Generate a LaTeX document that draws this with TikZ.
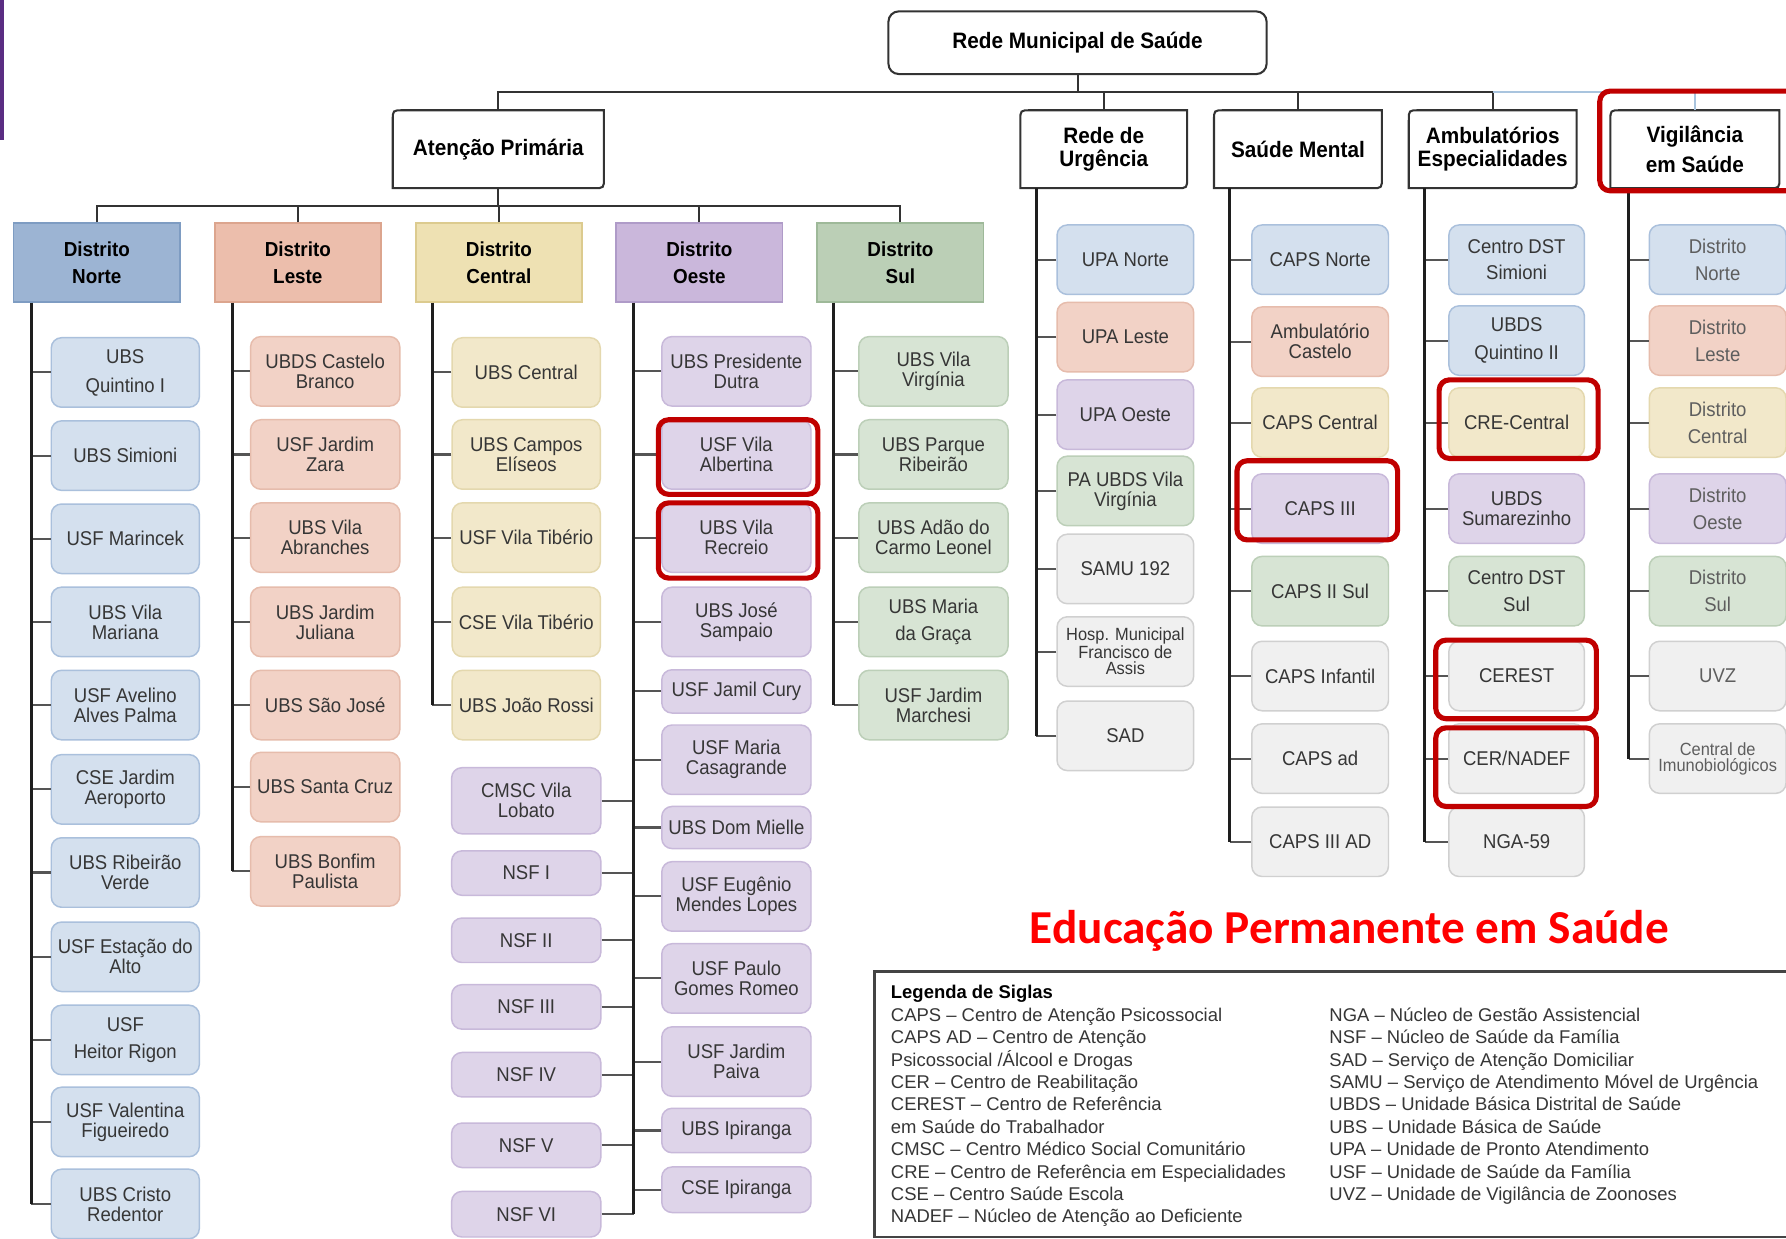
\documentclass[tikz,border=0pt]{standalone}
\usepackage{fontspec}
\setmainfont{Liberation Sans}
\newfontfamily\boxfont{Liberation Sans}[FakeStretch=0.93]
\newfontfamily\calfont{Carlito}

% Cores
\definecolor{linec}{HTML}{333333}
\definecolor{trunkc}{HTML}{1E1E1E}
\definecolor{tickc}{HTML}{555555}
\definecolor{busb}{HTML}{A9C4DE}
\definecolor{txt}{HTML}{363636}
\definecolor{txtl}{HTML}{5E5E5E}
\definecolor{hired}{HTML}{C00000}
\definecolor{titred}{HTML}{FF0000}
\definecolor{legc}{HTML}{444444}
\definecolor{barpur}{HTML}{5A2D82}
\definecolor{blueH}{HTML}{9CB4D3}\definecolor{blueE}{HTML}{7E9CC2}
\definecolor{blueF}{HTML}{D4E0EE}\definecolor{blueL}{HTML}{AAC0DC}
\definecolor{salmonH}{HTML}{ECBEAC}\definecolor{salmonE}{HTML}{DCA58E}
\definecolor{salmonF}{HTML}{F2D2C6}\definecolor{salmonL}{HTML}{E6BCAC}
\definecolor{yellowH}{HTML}{EEE1B3}\definecolor{yellowE}{HTML}{DCCB8F}
\definecolor{yellowF}{HTML}{F2E8CA}\definecolor{yellowL}{HTML}{E4D8AE}
\definecolor{purpleH}{HTML}{CAB7DB}\definecolor{purpleE}{HTML}{AF9BC8}
\definecolor{purpleF}{HTML}{DED4E9}\definecolor{purpleL}{HTML}{C8B9DA}
\definecolor{greenH}{HTML}{BBCFB6}\definecolor{greenE}{HTML}{9EB999}
\definecolor{greenF}{HTML}{D7E4D4}\definecolor{greenL}{HTML}{BCCFB8}
\definecolor{grayF}{HTML}{F0F0F0}\definecolor{grayL}{HTML}{D0D0D0}

% Fontes
\newcommand\itemtxt{\boxfont\fontsize{17.5}{17.5}\selectfont}
\newcommand\tinytxt{\boxfont\fontsize{15.5}{14.2}\selectfont}
\newcommand\lvltxt{\boxfont\bfseries\fontsize{19.6}{19.6}\selectfont}
\newcommand\disttxt{\boxfont\bfseries\fontsize{17.8}{17.8}\selectfont}
\newcommand\legfont{\fontsize{16.2}{19.6}\selectfont}

\begin{document}
\begin{tikzpicture}[x=1pt, y=-1pt,
    topbox/.style={draw=linec, line width=1.8pt, rounded corners=9pt, fill=white,
      minimum width=332pt, minimum height=55pt, inner sep=0pt, font=\lvltxt},
    lvl/.style={minimum height=68pt, inner sep=0pt, align=center, font=\lvltxt},
    lvlline/.style={draw=linec, line width=1.8pt},
    dist/.style={draw=#1E, fill=#1H, line width=1.4pt, minimum width=146pt,
      minimum height=69pt, inner sep=0pt, align=center, font=\disttxt},
    item/.style={draw=#1L, fill=#1F, rounded corners=9pt, line width=1.3pt,
      minimum height=61pt, inner sep=0pt, align=center, text=txt, font=\itemtxt},
    bus/.style={draw=linec, line width=1.8pt},
    busblue/.style={draw=busb, line width=1.8pt},
    trunk/.style={draw=trunkc, line width=2.6pt},
    tick/.style={draw=tickc, line width=1.8pt},
    hilite/.style={draw=hired, line width=4.5pt, rounded corners=9pt},
    legbox/.style={draw=legc, line width=2.3pt},
    legtxt/.style={anchor=base west, inner sep=0pt, text=txt, font=\legfont}
  ]
  \useasboundingbox (0,0) rectangle (1568,1087);
  \fill[white] (0,0) rectangle (1568,1087);
  \fill[barpur] (0,0) rectangle (3.5,123);

  % Topo e primeiro nivel
  \node[topbox] (rm) at (946,37.5) {Rede Municipal de Saúde};
  \node[lvl, minimum width=185pt] (ap) at (437.5,131) {Atenção Primária};
  \node[lvl, minimum width=146pt] (ru) at (969,131) {Rede de\\Urgência};
  \node[lvl, minimum width=147pt] (sm) at (1139.5,131) {Saúde Mental};
  \node[lvl, minimum width=147pt] (ae) at (1310.5,131) {Ambulatórios\\Especialidades};
  \node[lvl, minimum width=148pt] (vs) at (1488,131) {Vigilância\\[6pt]em Saúde};
  \foreach \n in {ap,ru,sm,ae,vs}{
    \draw[lvlline] (\n.south west) -- ([yshift=-9pt]\n.north west)
      .. controls (\n.north west) .. ([xshift=9pt]\n.north west)
      -- (\n.north east) -- ([yshift=9pt]\n.south east)
      .. controls (\n.south east) .. ([xshift=-9pt]\n.south east) -- cycle;
  }
  \draw[bus] (rm.south) -- ++(0,15) coordinate (rmb);
  \foreach \n in {ap,ru,sm,ae}
    \draw[bus] (\n.north) |- (rmb);
  \draw[busblue] (vs.north) |- (rmb -| ae.north);

  % Distritos da Atencao Primaria
  \node[dist=blue] (dn) at (85,230.5) {Distrito\\[6pt]Norte};
  \node[dist=salmon] (dl) at (261.5,230.5) {Distrito\\[6pt]Leste};
  \node[dist=yellow] (dc) at (438,230.5) {Distrito\\[6pt]Central};
  \node[dist=purple] (do) at (614,230.5) {Distrito\\[6pt]Oeste};
  \node[dist=green] (ds) at (790.5,230.5) {Distrito\\[6pt]Sul};
  \draw[bus] (ap.south) -- ++(0,16) coordinate (apb);
  \foreach \d in {dn,dl,dc,do,ds}
    \draw[bus] (\d.north) |- (apb);

  % ---- Distrito Norte ----
  \coordinate (tn) at ([xshift=16pt]dn.south west);
  \foreach \y/\t [count=\i] in {
      327/{UBS\\[8pt]Quintino I}, 400/{UBS Simioni}, 473/{USF Marincek},
      546/{UBS Vila\\Mariana}, 619/{USF Avelino\\Alves Palma},
      693/{CSE Jardim\\Aeroporto}, 766/{UBS Ribeirão\\Verde},
      840/{USF Estação do\\Alto}, 913/{USF\\[6.5pt]Heitor Rigon},
      985/{USF Valentina\\Figueiredo}, 1057/{UBS Cristo\\Redentor}}{
    \node[item=blue, minimum width=130pt] (n\i) at (110,\y) {\t};
    \draw[tick] (n\i.west) -- (n\i.west -| tn);
  }
  \draw[trunk] (tn) -- (tn |- n11.west);

  % ---- Distrito Leste ----
  \coordinate (tl) at ([xshift=16pt]dl.south west);
  \foreach \y/\t [count=\i] in {
      326/{UBDS Castelo\\Branco}, 399/{USF Jardim\\Zara}, 472/{UBS Vila\\Abranches},
      546/{UBS Jardim\\Juliana}, 619/{UBS São José}, 691/{UBS Santa Cruz},
      765/{UBS Bonfim\\Paulista}}{
    \node[item=salmon, minimum width=131pt] (l\i) at (285.5,\y) {\t};
    \draw[tick] (l\i.west) -- (l\i.west -| tl);
  }
  \draw[trunk] (tl) -- (tl |- l7.west);

  % ---- Distrito Central ----
  \coordinate (tc) at ([xshift=15pt]dc.south west);
  \foreach \y/\t [count=\i] in {
      327/{UBS Central}, 399/{UBS Campos\\Elíseos}, 472/{USF Vila Tibério},
      546/{CSE Vila Tibério}, 619/{UBS João Rossi}}{
    \node[item=yellow, minimum width=130pt] (c\i) at (462,\y) {\t};
    \draw[tick] (c\i.west) -- (c\i.west -| tc);
  }
  \draw[trunk] (tc) -- (tc |- c5.west);

  % ---- Distrito Oeste (dos dois lados) ----
  \coordinate (to) at ([xshift=16pt]do.south west);
  \foreach \y/\h/\t [count=\i] in {
      326/61/{UBS Presidente\\Dutra}, 399/61/{USF Vila\\Albertina},
      472/61/{UBS Vila\\Recreio}, 546/61/{UBS José\\Sampaio},
      607/38/{USF Jamil Cury}, 667/61/{USF Maria\\Casagrande},
      726.5/37/{UBS Dom Mielle}, 787/61/{USF Eugênio\\Mendes Lopes},
      859/61/{USF Paulo\\Gomes Romeo}, 932/61/{USF Jardim\\Paiva},
      992.5/39/{UBS Ipiranga}, 1044.5/40/{CSE Ipiranga}}{
    \node[item=purple, minimum width=131pt, minimum height=\h pt] (o\i) at (646.5,\y) {\t};
    \draw[tick] (o\i.west) -- (o\i.west -| to);
  }
  \foreach \y/\h/\t [count=\i] in {
      703/58/{CMSC Vila\\Lobato}, 766.5/39/{NSF I}, 825.5/39/{NSF II},
      884/39/{NSF III}, 943.5/39/{NSF IV}, 1005.5/39/{NSF V}, 1066/40/{NSF VI}}{
    \node[item=purple, minimum width=131pt, minimum height=\h pt] (ow\i) at (462,\y) {\t};
    \draw[tick] (ow\i.east) -- (ow\i.east -| to);
  }
  \draw[trunk] (to) -- (to |- ow7.east);

  % ---- Distrito Sul ----
  \coordinate (ts) at ([xshift=15pt]ds.south west);
  \foreach \y/\t [count=\i] in {
      326/{UBS Vila\\Virgínia}, 399/{UBS Parque\\Ribeirão},
      472/{UBS Adão do\\Carmo Leonel}, 546/{UBS Maria\\[6.5pt]da Graça},
      619/{USF Jardim\\Marchesi}}{
    \node[item=green, minimum width=131pt] (s\i) at (819.5,\y) {\t};
    \draw[tick] (s\i.west) -- (s\i.west -| ts);
  }
  \draw[trunk] (ts) -- (ts |- s5.west);

  % ---- Rede de Urgencia ----
  \coordinate (tu) at ([xshift=14pt]ru.south west);
  \foreach \c/\y/\f/\t [count=\i] in {
      blue/228/\itemtxt/{UPA Norte}, salmon/296/\itemtxt/{UPA Leste},
      purple/364/\itemtxt/{UPA Oeste}, green/431/\itemtxt/{PA UBDS Vila\\Virgínia},
      gray/499.5/\itemtxt/{SAMU 192},
      gray/572/\tinytxt/{Hosp. Municipal\\Francisco de\\Assis},
      gray/646/\itemtxt/{SAD}}{
    \node[item=\c, minimum width=120pt, font=\f] (u\i) at (988,\y) {\t};
    \draw[tick] (u\i.west) -- (u\i.west -| tu);
  }
  \draw[trunk] (tu) -- (tu |- u7.west);

  % ---- Saude Mental ----
  \coordinate (tm) at ([xshift=14pt]sm.south west);
  \foreach \c/\y/\t [count=\i] in {
      blue/228/{CAPS Norte}, salmon/300/{Ambulatório\\Castelo},
      yellow/371/{CAPS Central}, purple/446.5/{CAPS III}, green/519/{CAPS II Sul},
      gray/593.5/{CAPS Infantil}, gray/666/{CAPS ad}, gray/739/{CAPS III AD}}{
    \node[item=\c, minimum width=120pt] (m\i) at (1159,\y) {\t};
    \draw[tick] (m\i.west) -- (m\i.west -| tm);
  }
  \draw[trunk] (tm) -- (tm |- m8.west);

  % ---- Ambulatorios Especialidades ----
  \coordinate (ta) at ([xshift=14pt]ae.south west);
  \foreach \c/\y/\t [count=\i] in {
      blue/228/{Centro DST\\[6pt]Simioni}, blue/299/{UBDS\\[6.5pt]Quintino II},
      yellow/371/{CRE-Central}, purple/446.5/{UBDS\\Sumarezinho},
      green/519/{Centro DST\\[6pt]Sul}, gray/593.5/{CEREST},
      gray/666/{CER/NADEF}, gray/739/{NGA-59}}{
    \node[item=\c, minimum width=119pt] (a\i) at (1331.5,\y) {\t};
    \draw[tick] (a\i.west) -- (a\i.west -| ta);
  }
  \draw[trunk] (ta) -- (ta |- a8.west);

  % ---- Vigilancia em Saude ----
  \coordinate (tv) at ([xshift=16pt]vs.south west);
  \foreach \c/\y/\f/\t [count=\i] in {
      blue/228/\itemtxt/{Distrito\\[6pt]Norte}, salmon/299/\itemtxt/{Distrito\\[6pt]Leste},
      yellow/371/\itemtxt/{Distrito\\[6pt]Central}, purple/446.5/\itemtxt/{Distrito\\[6pt]Oeste},
      green/519/\itemtxt/{Distrito\\[6pt]Sul}, gray/593.5/\itemtxt/{UVZ},
      gray/666/\tinytxt/{Central de\\Imunobiológicos}}{
    \node[item=\c, minimum width=120pt, font=\f, text=txtl] (v\i) at (1508,\y) {\t};
    \draw[tick] (v\i.west) -- (v\i.west -| tv);
  }
  \draw[trunk] (tv) -- (tv |- v7.west);

  % Destaques em vermelho
  \draw[hilite] (1404.5,80) rectangle (1578,167.5);
  \draw[hilite] (578,368.5) rectangle (718,434);
  \draw[hilite] (578,441.5) rectangle (718,507.5);
  \draw[hilite] (1086,404.5) rectangle (1227,474);
  \draw[hilite] (1263.5,333.5) rectangle (1403,402.5);
  \draw[hilite] (1260.5,562) rectangle (1401.5,631);
  \draw[hilite] (1260.5,639) rectangle (1401.5,708);

  % Titulo e legenda
  \node[anchor=base west, inner sep=0pt, text=titred,
    font=\calfont\bfseries\fontsize{41.5}{41.5}\selectfont] (ep) at (904,828)
    {Educação Permanente em Saúde};
  \draw[legbox] (768,853) rectangle (1582,1086);
  \node[legtxt, text=black, font=\legfont\bfseries] (lg) at (782,877) {Legenda de Siglas};
  \foreach \t [count=\i] in {
      CAPS – Centro de Atenção Psicossocial,
      CAPS AD – Centro de Atenção,
      Psicossocial /Álcool e Drogas,
      CER – Centro de Reabilitação,
      CEREST – Centro de Referência,
      em Saúde do Trabalhador,
      CMSC – Centro Médico Social Comunitário,
      CRE – Centro de Referência em Especialidades,
      CSE – Centro Saúde Escola,
      NADEF – Núcleo de Atenção ao Deficiente}
    \node[legtxt] (la\i) at (782,877+19.67*\i) {\t};
  \foreach \t [count=\i] in {
      NGA – Núcleo de Gestão Assistencial,
      NSF – Núcleo de Saúde da Família,
      SAD – Serviço de Atenção Domiciliar,
      SAMU – Serviço de Atendimento Móvel de Urgência,
      UBDS – Unidade Básica Distrital de Saúde,
      UBS – Unidade Básica de Saúde,
      UPA – Unidade de Pronto Atendimento,
      USF – Unidade de Saúde da Família,
      UVZ – Unidade de Vigilância de Zoonoses}
    \node[legtxt] (lb\i) at (1167,877+19.67*\i) {\t};
\end{tikzpicture}
\end{document}
